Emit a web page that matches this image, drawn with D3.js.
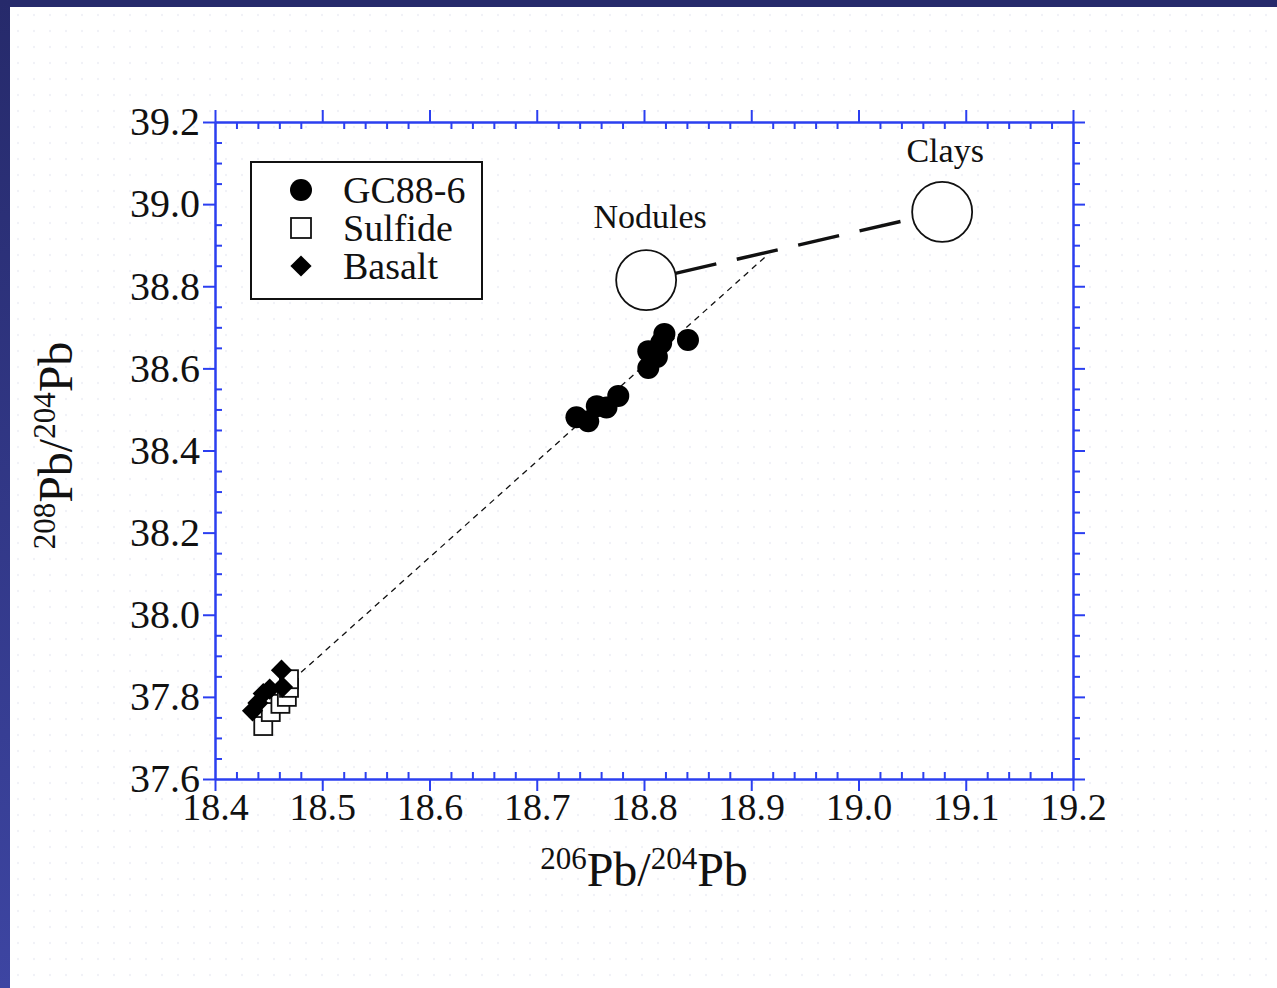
<!DOCTYPE html>
<html>
<head>
<meta charset="utf-8">
<script src="https://cdn.jsdelivr.net/npm/d3@7/dist/d3.min.js"></script>
<style>
  html, body { margin: 0; padding: 0; background: #ffffff; }
  svg { display: block; }
</style>
</head>
<body>
<svg id="chart" width="1277" height="988"></svg>
<script>
// ---- data ----
const gcX = [18.737, 18.748, 18.756, 18.765, 18.776, 18.804, 18.804, 18.812, 18.816, 18.819, 18.841];
const gcY = [38.481, 38.471, 38.508, 38.505, 38.533, 38.601, 38.642, 38.628, 38.662, 38.684, 38.669];
const sulfideX = [18.445, 18.452, 18.461, 18.467, 18.469, 18.469];
const sulfideY = [37.729, 37.763, 37.783, 37.800, 37.822, 37.843];
const basaltX = [18.435, 18.440, 18.445, 18.451, 18.463, 18.462];
const basaltY = [37.766, 37.785, 37.808, 37.819, 37.824, 37.865];
const endmemberNames = ["Nodules", "Clays"];
const endmemberX = [18.802, 19.078];
const endmemberY = [38.815, 38.981];
const mixLineX = [18.465, 18.915];
const mixLineY = [37.824, 38.876];
const xTicks = [18.4, 18.5, 18.6, 18.7, 18.8, 18.9, 19.0, 19.1, 19.2];
const yTicks = [37.6, 37.8, 38.0, 38.2, 38.4, 38.6, 38.8, 39.0, 39.2];
const legendNames = ["GC88-6", "Sulfide", "Basalt"];

// ---- layout ----
const svg = d3.select("#chart");
const W = 1277, H = 988;
const pL = 215, pR = 1073, pT = 122, pB = 779;
const blue = "#2b3ff0";
const serif = "'Liberation Serif','Times New Roman',Times,serif";

// background: slide frame
const defs = svg.append("defs");
const grad = defs.append("linearGradient").attr("id", "lg").attr("x1", 0).attr("y1", 0).attr("x2", 0).attr("y2", 1);
grad.append("stop").attr("offset", "0%").attr("stop-color", "#262a6b");
grad.append("stop").attr("offset", "100%").attr("stop-color", "#3d45a2");
const pat = defs.append("pattern").attr("id", "dots").attr("width", 16).attr("height", 16)
  .attr("patternUnits", "userSpaceOnUse").attr("x", 10).attr("y", 7);
pat.append("circle").attr("cx", 8).attr("cy", 8).attr("r", 1.2).attr("fill", "#f1f2f7");
svg.append("rect").attr("width", W).attr("height", H).attr("fill", "#ffffff");
svg.append("rect").attr("x", 10).attr("y", 7).attr("width", W - 10).attr("height", H - 7).attr("fill", "url(#dots)");
svg.append("rect").attr("x", 0).attr("y", 0).attr("width", W).attr("height", 7).attr("fill", "#262a6b");
svg.append("rect").attr("x", 0).attr("y", 0).attr("width", 10).attr("height", H).attr("fill", "url(#lg)");

// scales
const x = d3.scaleLinear().domain([18.4, 19.2]).range([pL, pR]);
const y = d3.scaleLinear().domain([37.6, 39.2]).range([pB, pT]);
const xMinor = d3.range(0, 41).map(i => +(18.4 + i * 0.02).toFixed(2)).filter(v => !xTicks.some(t => Math.abs(t - v) < 1e-6));
const yMinor = d3.range(0, 33).map(i => +(37.6 + i * 0.05).toFixed(2)).filter(v => !yTicks.some(t => Math.abs(t - v) < 1e-6));

function styleAxis(fs) {
  return g => {
    g.selectAll("path.domain").attr("stroke", blue).attr("stroke-width", 2);
    g.selectAll(".tick line").attr("stroke", blue).attr("stroke-width", 2);
    g.selectAll(".tick text").attr("fill", "#111").attr("font-family", serif).attr("font-size", fs);
  };
}

// bottom axis
svg.append("g").attr("transform", `translate(0,${pB})`)
  .call(d3.axisBottom(x).tickValues(xTicks).tickSize(12).tickSizeOuter(0).tickPadding(2).tickFormat(d3.format(".1f")))
  .call(styleAxis(38));
svg.append("g").attr("transform", `translate(0,${pB})`)
  .call(d3.axisBottom(x).tickValues(xMinor).tickSize(-7).tickSizeOuter(0).tickFormat(""))
  .call(styleAxis(38));
// top axis
svg.append("g").attr("transform", `translate(0,${pT})`)
  .call(d3.axisTop(x).tickValues(xTicks).tickSize(12).tickSizeOuter(0).tickFormat(""))
  .call(styleAxis(38));
svg.append("g").attr("transform", `translate(0,${pT})`)
  .call(d3.axisTop(x).tickValues(xMinor).tickSize(-7).tickSizeOuter(0).tickFormat(""))
  .call(styleAxis(38));
// left axis
svg.append("g").attr("transform", `translate(${pL},0)`)
  .call(d3.axisLeft(y).tickValues(yTicks).tickSize(12).tickSizeOuter(0).tickPadding(3).tickFormat(d3.format(".1f")))
  .call(styleAxis(40));
svg.append("g").attr("transform", `translate(${pL},0)`)
  .call(d3.axisLeft(y).tickValues(yMinor).tickSize(-7).tickSizeOuter(0).tickFormat(""))
  .call(styleAxis(40));
// right axis
svg.append("g").attr("transform", `translate(${pR},0)`)
  .call(d3.axisRight(y).tickValues(yTicks).tickSize(12).tickSizeOuter(0).tickFormat(""))
  .call(styleAxis(38));
svg.append("g").attr("transform", `translate(${pR},0)`)
  .call(d3.axisRight(y).tickValues(yMinor).tickSize(7).tickSizeOuter(0).tickFormat(""))
  .call(styleAxis(38));

// axis titles
const xt = svg.append("text").attr("x", (pL + pR) / 2).attr("y", 886)
  .attr("text-anchor", "middle").attr("font-family", serif).attr("font-size", 48).attr("fill", "#111");
xt.append("tspan").attr("font-size", 31).attr("dy", -17).text("206");
xt.append("tspan").attr("dy", 17).text("Pb/");
xt.append("tspan").attr("font-size", 31).attr("dy", -17).text("204");
xt.append("tspan").attr("dy", 17).text("Pb");

const yt = svg.append("text").attr("transform", `translate(72,${(pT + pB) / 2 - 5}) rotate(-90)`)
  .attr("text-anchor", "middle").attr("font-family", serif).attr("font-size", 48).attr("fill", "#111");
yt.append("tspan").attr("font-size", 31).attr("dy", -17).text("208");
yt.append("tspan").attr("dy", 17).text("Pb/");
yt.append("tspan").attr("font-size", 31).attr("dy", -17).text("204");
yt.append("tspan").attr("dy", 17).text("Pb");

// thin dashed mixing line
svg.append("line")
  .attr("x1", x(mixLineX[0])).attr("y1", y(mixLineY[0]))
  .attr("x2", x(mixLineX[1])).attr("y2", y(mixLineY[1]))
  .attr("stroke", "#111").attr("stroke-width", 1.3).attr("stroke-dasharray", "6,5");

// thick dashed line between end-member circles
const R = 30;
{
  const x1 = x(endmemberX[0]), y1 = y(endmemberY[0]), x2 = x(endmemberX[1]), y2 = y(endmemberY[1]);
  const len = Math.hypot(x2 - x1, y2 - y1), ux = (x2 - x1) / len, uy = (y2 - y1) / len;
  svg.append("line")
    .attr("x1", x1 + ux * R).attr("y1", y1 + uy * R)
    .attr("x2", x2 - ux * R).attr("y2", y2 - uy * R)
    .attr("stroke", "#111").attr("stroke-width", 3.4).attr("stroke-dasharray", "42,21");
}
svg.selectAll("circle.em").data(endmemberX).join("circle").attr("class", "em")
  .attr("cx", (d, i) => x(d)).attr("cy", (d, i) => y(endmemberY[i])).attr("r", R)
  .attr("fill", "white").attr("stroke", "#111").attr("stroke-width", 1.8);
const labelOffsets = [[4, -52], [3, -50]];
svg.selectAll("text.em").data(endmemberNames).join("text").attr("class", "em")
  .attr("x", (d, i) => x(endmemberX[i]) + labelOffsets[i][0])
  .attr("y", (d, i) => y(endmemberY[i]) + labelOffsets[i][1])
  .attr("text-anchor", "middle").attr("font-family", serif).attr("font-size", 34).attr("fill", "#111")
  .text(d => d);

// markers
const sulfide = sulfideX.map((v, i) => [v, sulfideY[i]]);
const basalt = basaltX.map((v, i) => [v, basaltY[i]]);
const gc = gcX.map((v, i) => [v, gcY[i]]);
const S = 18;
svg.selectAll("rect.sul").data(sulfide).join("rect").attr("class", "sul")
  .attr("x", d => x(d[0]) - S / 2).attr("y", d => y(d[1]) - S / 2).attr("width", S).attr("height", S)
  .attr("fill", "white").attr("stroke", "#111").attr("stroke-width", 1.8);
const diamond = d3.symbol().type(d3.symbolSquare).size(15 * 15);
svg.selectAll("path.bas").data(basalt).join("path").attr("class", "bas")
  .attr("d", diamond).attr("transform", d => `translate(${x(d[0])},${y(d[1])}) rotate(45)`)
  .attr("fill", "#000");
svg.selectAll("circle.gc").data(gc).join("circle").attr("class", "gc")
  .attr("cx", d => x(d[0])).attr("cy", d => y(d[1])).attr("r", 11).attr("fill", "#000");

// legend
const lg = svg.append("g");
lg.append("rect").attr("x", 251).attr("y", 162).attr("width", 231).attr("height", 137)
  .attr("fill", "white").attr("stroke", "#111").attr("stroke-width", 2);
const rowY = [190, 228, 266];
lg.append("circle").attr("cx", 301).attr("cy", rowY[0]).attr("r", 11).attr("fill", "#000");
lg.append("rect").attr("x", 301 - 10).attr("y", rowY[1] - 10).attr("width", 20).attr("height", 20)
  .attr("fill", "white").attr("stroke", "#111").attr("stroke-width", 1.8);
lg.append("path").attr("d", diamond).attr("transform", `translate(301,${rowY[2]}) rotate(45)`).attr("fill", "#000");
lg.selectAll("text").data(legendNames).join("text")
  .attr("x", 343).attr("y", (d, i) => rowY[i] + 13)
  .attr("font-family", serif).attr("font-size", 38).attr("fill", "#111").text(d => d);
</script>
</body>
</html>
